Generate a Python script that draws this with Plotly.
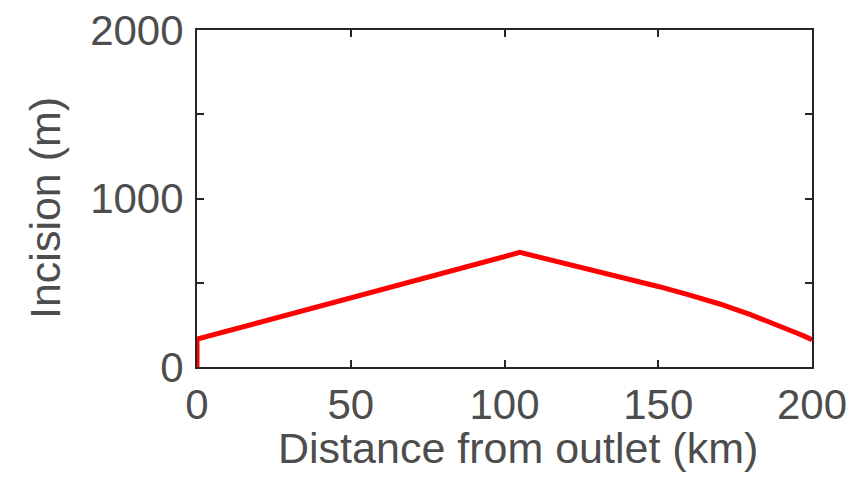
import plotly.graph_objects as go

distance_km = [0, 0, 105, 120, 135, 150, 160, 170, 180, 185, 190, 195, 197.5, 200]
incision_m = [0, 165, 680, 615, 549, 478, 428, 374, 311, 277, 241, 202, 183, 162]

x_ticks = [0, 50, 100, 150, 200]
x_ticklabels = ["0", "50", "100", "150", "200"]
y_ticks = [0, 500, 1000, 1500, 2000]
y_ticklabels = ["0", "", "1000", "", "2000"]
x_title = "Distance from outlet (km)"
y_title = "Incision (m)"

font_family = "Liberation Sans, Arial, Helvetica, sans-serif"
txt_color = "#4d4d4d"
axis_color = "#262626"

fig = go.Figure()
fig.add_trace(go.Scatter(
    x=distance_km, y=incision_m, mode="lines",
    line=dict(color="#ff0000", width=5, shape="linear"),
    cliponaxis=False, showlegend=False,
))

axis_common = dict(
    showline=True, linecolor=axis_color, linewidth=2, mirror="ticks",
    ticks="inside", ticklen=7, tickwidth=1.5, tickcolor=axis_color,
    showgrid=False, zeroline=False, ticklabeloverflow="allow", automargin=False,
    tickfont=dict(family=font_family, size=42, color=txt_color),
)

fig.update_layout(
    width=848, height=471,
    margin=dict(l=189, r=44, t=22, b=112, autoexpand=False),
    paper_bgcolor="white", plot_bgcolor="white",
    xaxis=dict(range=[0, 200], tickvals=x_ticks, ticktext=x_ticklabels, **axis_common),
    yaxis=dict(range=[0, 2000], tickvals=y_ticks, ticktext=y_ticklabels,
               ticklabelstandoff=3, **axis_common),
    annotations=[
        dict(text=x_title, xref="paper", yref="paper", x=0.522, y=-0.240,
             xanchor="center", yanchor="middle", showarrow=False,
             font=dict(family=font_family, size=43, color=txt_color)),
        dict(text=y_title, xref="paper", yref="paper", x=-0.247, y=0.472,
             xanchor="center", yanchor="middle", showarrow=False, textangle=-90,
             font=dict(family=font_family, size=43, color=txt_color)),
    ],
)

fig.write_html("out.html")
